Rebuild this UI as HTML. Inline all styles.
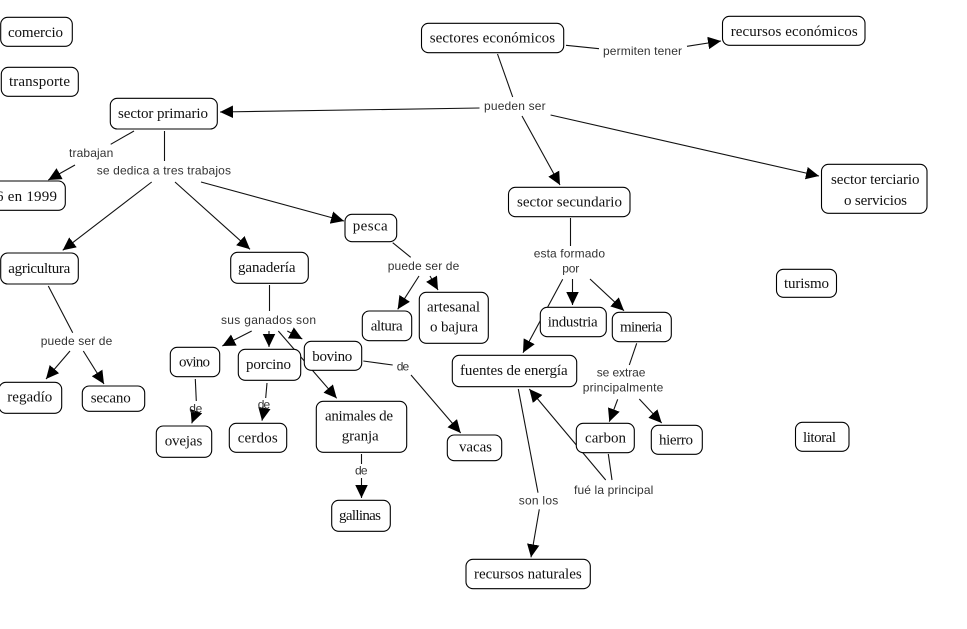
<!DOCTYPE html>
<html><head><meta charset="utf-8"><style>
html,body{margin:0;padding:0;background:#fff}
svg{display:block}
rect{fill:#fff;stroke:#000;stroke-width:1.1}
line{stroke:#111;stroke-width:1.1}
.a{marker-end:url(#m)}
.n{font:15px "Liberation Serif",serif;fill:#111}
.l{font:12px "Liberation Sans",sans-serif;fill:#333}
</style></head><body>
<svg width="967" height="629" viewBox="0 0 967 629" xmlns="http://www.w3.org/2000/svg">
<defs><marker id="m" markerUnits="userSpaceOnUse" markerWidth="14" markerHeight="13" refX="13" refY="6.25" orient="auto"><path d="M0 0L13 6.25L0 12.5z" fill="#000"/></marker></defs>
<g>
<line x1="566" y1="45.3" x2="599" y2="48.7"/>
<line class="a" x1="687" y1="46.3" x2="721" y2="41"/>
<line x1="497.5" y1="54" x2="512.7" y2="97"/>
<line class="a" x1="479.5" y1="108" x2="220" y2="112"/>
<line class="a" x1="522" y1="116" x2="560" y2="185"/>
<line class="a" x1="550.6" y1="115" x2="819" y2="176"/>
<line x1="570.5" y1="218" x2="570.5" y2="246"/>
<line class="a" x1="562.7" y1="279.3" x2="523" y2="352.7"/>
<line class="a" x1="572.5" y1="279" x2="572.5" y2="305"/>
<line class="a" x1="590" y1="279" x2="624" y2="310.7"/>
<line x1="636.7" y1="343.3" x2="629.3" y2="365"/>
<line class="a" x1="617.7" y1="399.3" x2="609.3" y2="421.7"/>
<line class="a" x1="639.3" y1="399" x2="661.7" y2="423"/>
<line x1="608.3" y1="454" x2="612" y2="480"/>
<line class="a" x1="605.7" y1="480" x2="529.3" y2="389"/>
<line x1="518.3" y1="389" x2="538" y2="492.7"/>
<line class="a" x1="539.3" y1="509.3" x2="531" y2="557.3"/>
<line x1="134" y1="131" x2="110.7" y2="144.3"/>
<line class="a" x1="75" y1="165" x2="48.3" y2="180"/>
<line x1="164.5" y1="131" x2="164.5" y2="161"/>
<line class="a" x1="151.7" y1="182" x2="62.7" y2="250.3"/>
<line class="a" x1="175" y1="182" x2="250" y2="249.3"/>
<line class="a" x1="201" y1="182" x2="344" y2="221"/>
<line x1="48.3" y1="286" x2="72.7" y2="332.7"/>
<line class="a" x1="70" y1="351" x2="46" y2="379"/>
<line class="a" x1="83.3" y1="351" x2="104" y2="384"/>
<line x1="392.7" y1="242.7" x2="410.7" y2="257.3"/>
<line class="a" x1="419" y1="276" x2="397.7" y2="309.3"/>
<line class="a" x1="430" y1="276" x2="438" y2="290"/>
<line x1="269.5" y1="285" x2="269.5" y2="311"/>
<line class="a" x1="251.7" y1="331" x2="222.3" y2="346"/>
<line class="a" x1="269" y1="331" x2="269" y2="347"/>
<line class="a" x1="287.3" y1="331" x2="302.3" y2="339"/>
<line class="a" x1="278.3" y1="331" x2="336.7" y2="398.3"/>
<line x1="195.3" y1="379" x2="196.3" y2="401"/>
<line class="a" x1="196" y1="412" x2="191.7" y2="423.3"/>
<line x1="267" y1="383" x2="265.7" y2="398"/>
<line class="a" x1="264" y1="410" x2="262" y2="420.7"/>
<line x1="361.5" y1="454" x2="361.5" y2="464"/>
<line class="a" x1="361.5" y1="478" x2="361.5" y2="498"/>
<line x1="363.3" y1="361" x2="392.7" y2="365"/>
<line class="a" x1="411" y1="375" x2="460.7" y2="433"/>
</g>
<g>
<rect x="0.7" y="17.3" width="71.6" height="29" rx="7"/>
<rect x="1.3" y="67.3" width="77" height="29" rx="7"/>
<rect x="110.3" y="98.3" width="107" height="30.7" rx="7"/>
<rect x="-40" y="181" width="105.3" height="29.3" rx="7"/>
<rect x="0.7" y="253" width="77.6" height="31" rx="7"/>
<rect x="230.7" y="252.3" width="77.6" height="31" rx="7"/>
<rect x="345" y="214.3" width="51.7" height="27.4" rx="7"/>
<rect x="362.3" y="311" width="49.4" height="29.7" rx="7"/>
<rect x="419.3" y="292.3" width="69" height="51" rx="7"/>
<rect x="170.3" y="347.3" width="49.4" height="29.4" rx="7"/>
<rect x="238.3" y="349.3" width="62.4" height="31" rx="7"/>
<rect x="304.3" y="341.3" width="57.4" height="29" rx="7"/>
<rect x="156.3" y="426" width="55.4" height="31.3" rx="7"/>
<rect x="229.3" y="423.3" width="57.4" height="29" rx="7"/>
<rect x="316.3" y="401.3" width="90.4" height="51" rx="7"/>
<rect x="331.7" y="500.3" width="58.6" height="31" rx="7"/>
<rect x="447.3" y="435" width="54.4" height="25.7" rx="7"/>
<rect x="452.3" y="355.3" width="124.4" height="31.4" rx="7"/>
<rect x="540.3" y="307.3" width="66" height="29.4" rx="7"/>
<rect x="612.3" y="312.3" width="59" height="29.4" rx="7"/>
<rect x="576.3" y="423.3" width="58" height="29.4" rx="7"/>
<rect x="651.3" y="425.3" width="51" height="29" rx="7"/>
<rect x="466" y="559.3" width="124.3" height="29.4" rx="7"/>
<rect x="-1" y="382.3" width="62.7" height="31" rx="7"/>
<rect x="82.3" y="386" width="62.4" height="25.3" rx="7"/>
<rect x="421.5" y="23.3" width="142.2" height="29.4" rx="7"/>
<rect x="722.5" y="16.3" width="142.5" height="29" rx="7"/>
<rect x="508.5" y="187.3" width="121.5" height="29.4" rx="7"/>
<rect x="821.5" y="164.3" width="105.5" height="49" rx="7"/>
<rect x="776.5" y="269.3" width="60" height="28" rx="7"/>
<rect x="795.5" y="422.3" width="53.5" height="29" rx="7"/>
</g>
<g class="t">
<text class="n" x="8" y="37" textLength="55">comercio</text>
<text class="n" x="9" y="86" textLength="61">transporte</text>
<text class="n" x="118" y="118" textLength="90">sector primario</text>
<text class="n" x="-4" y="201" textLength="61">6 en 1999</text>
<text class="n" x="8.3" y="273" textLength="62">agricultura</text>
<text class="n" x="238" y="272" textLength="57.5">ganadería</text>
<text class="n" x="352.7" y="230.7" textLength="35">pesca</text>
<text class="n" x="370.7" y="330.7" textLength="32">altura</text>
<text class="n" x="427" y="311.7" textLength="53">artesanal</text>
<text class="n" x="430" y="331.7" textLength="48">o bajura</text>
<text class="n" x="179" y="366.7" textLength="31">ovino</text>
<text class="n" x="246" y="369" textLength="45">porcino</text>
<text class="n" x="312.3" y="361" textLength="40">bovino</text>
<text class="n" x="164.7" y="445.7" textLength="37.6">ovejas</text>
<text class="n" x="237.7" y="442.7" textLength="40">cerdos</text>
<text class="n" x="325" y="420.7" textLength="68">animales de</text>
<text class="n" x="341.7" y="440.5" textLength="37">granja</text>
<text class="n" x="339" y="520" textLength="42">gallinas</text>
<text class="n" x="459" y="451.7" textLength="33">vacas</text>
<text class="n" x="460" y="375" textLength="107.7">fuentes de energía</text>
<text class="n" x="547.7" y="326.7" textLength="50">industria</text>
<text class="n" x="620" y="331.7" textLength="42">mineria</text>
<text class="n" x="585" y="442.7" textLength="41">carbon</text>
<text class="n" x="659" y="444.3" textLength="34">hierro</text>
<text class="n" x="474" y="578.3" textLength="107.7">recursos naturales</text>
<text class="n" x="7.3" y="401.7" textLength="45">regadío</text>
<text class="n" x="90.7" y="402.3" textLength="40">secano</text>
<text class="n" x="429.7" y="42.7" textLength="125.4">sectores económicos</text>
<text class="n" x="730.7" y="36" textLength="127">recursos económicos</text>
<text class="n" x="517" y="206.7" textLength="105">sector secundario</text>
<text class="n" x="831" y="184" textLength="88.5">sector terciario</text>
<text class="n" x="844" y="205" textLength="63">o servicios</text>
<text class="n" x="784" y="288" textLength="45">turismo</text>
<text class="n" x="803" y="442" textLength="33">litoral</text>
<text class="l" x="603" y="55" textLength="79">permiten tener</text>
<text class="l" x="484" y="110" textLength="61.6">pueden ser</text>
<text class="l" x="69" y="157" textLength="44.3">trabajan</text>
<text class="l" x="96.7" y="174.7" textLength="134.3">se dedica a tres trabajos</text>
<text class="l" x="533.7" y="257.7" textLength="71.3">esta formado</text>
<text class="l" x="562.3" y="272.7" textLength="17">por</text>
<text class="l" x="596.7" y="376.7" textLength="48.7">se extrae</text>
<text class="l" x="582.7" y="391.7" textLength="80.6">principalmente</text>
<text class="l" x="40.7" y="345" textLength="71.6">puede ser de</text>
<text class="l" x="387.7" y="270" textLength="71.6">puede ser de</text>
<text class="l" x="221" y="324" textLength="95">sus ganados son</text>
<text class="l" x="189.3" y="412.7" textLength="13">de</text>
<text class="l" x="257.7" y="408.7" textLength="12.5">de</text>
<text class="l" x="355" y="474.7" textLength="12.5">de</text>
<text class="l" x="396.7" y="370.7" textLength="12.5">de</text>
<text class="l" x="518.7" y="504.7" textLength="39.6">son los</text>
<text class="l" x="574" y="494" textLength="79.3">fué la principal</text>
</g>
</svg>
</body></html>
